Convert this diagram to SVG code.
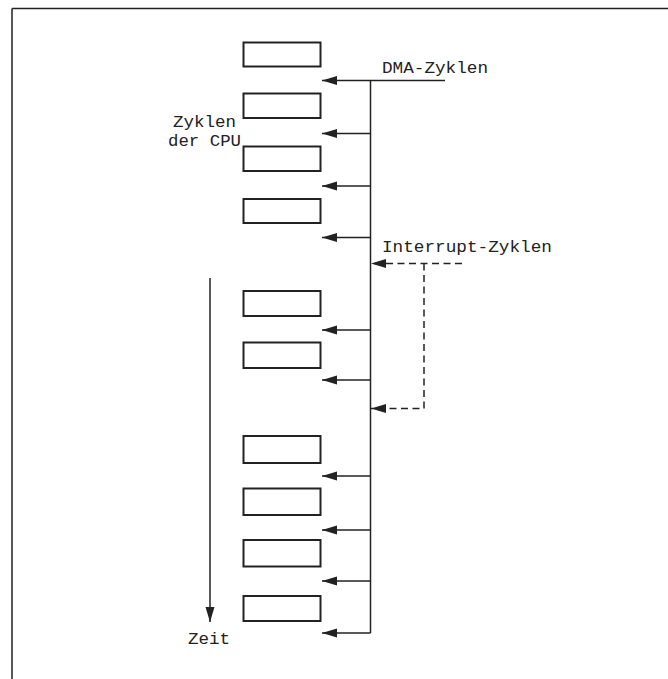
<svg xmlns="http://www.w3.org/2000/svg" width="668" height="679" viewBox="0 0 668 679">
<style>
.box{fill:none;stroke:#222;stroke-width:2}
.ln{fill:none;stroke:#222;stroke-width:1.5}
.dash{fill:none;stroke:#222;stroke-width:1.5;stroke-dasharray:7 4.5}
.t{font-family:"Liberation Mono",monospace;font-size:17px;fill:#222}
</style>
<defs>
<marker id="ah" markerUnits="userSpaceOnUse" markerWidth="16" markerHeight="10" refX="15" refY="4.5" orient="auto">
<path d="M0,0 L15,4.5 L0,9 Z" fill="#222"/>
</marker>
</defs>
<rect width="668" height="679" fill="#fff"/>
<path class="ln" d="M12,8.5 H668 M12,8.5 V679" stroke-width="2"/>
<g id="cpu-cycles">
<rect id="c1" class="box" x="243.5" y="42.5" width="77" height="24"/>
<rect id="c2" class="box" x="243.5" y="93.5" width="77" height="24.5"/>
<rect id="c3" class="box" x="243.5" y="146.5" width="77" height="24.5"/>
<rect id="c4" class="box" x="243.5" y="199" width="77" height="24"/>
<rect id="c5" class="box" x="243.5" y="291" width="77" height="25"/>
<rect id="c6" class="box" x="243.5" y="342.5" width="77" height="25.5"/>
<rect id="c7" class="box" x="243.5" y="436" width="77" height="27"/>
<rect id="c8" class="box" x="243.5" y="488.5" width="77" height="26.5"/>
<rect id="c9" class="box" x="243.5" y="540" width="77" height="26.5"/>
<rect id="c10" class="box" x="243.5" y="596" width="77" height="25"/>
</g>
<g id="labels">
<text class="t" x="382" y="73" textLength="106" lengthAdjust="spacingAndGlyphs">DMA-Zyklen</text>
<text class="t" x="173" y="127" textLength="63" lengthAdjust="spacingAndGlyphs">Zyklen</text>
<text class="t" x="168" y="146" textLength="73" lengthAdjust="spacingAndGlyphs">der CPU</text>
<text class="t" x="382" y="252" textLength="170" lengthAdjust="spacingAndGlyphs">Interrupt-Zyklen</text>
<text class="t" x="188" y="644" textLength="42" lengthAdjust="spacingAndGlyphs">Zeit</text>
</g>
<g id="connectors">
<path class="ln" d="M445,80.5 H322" marker-end="url(#ah)"/>
<path class="ln" d="M370.5,80.5 V633"/>
<path class="ln" d="M370.5,133.5 H322" marker-end="url(#ah)"/>
<path class="ln" d="M370.5,186 H322" marker-end="url(#ah)"/>
<path class="ln" d="M370.5,237.5 H322" marker-end="url(#ah)"/>
<path class="ln" d="M370.5,330 H322" marker-end="url(#ah)"/>
<path class="ln" d="M370.5,380 H322" marker-end="url(#ah)"/>
<path class="ln" d="M370.5,476 H322" marker-end="url(#ah)"/>
<path class="ln" d="M370.5,530 H322" marker-end="url(#ah)"/>
<path class="ln" d="M370.5,581 H322" marker-end="url(#ah)"/>
<path class="ln" d="M370.5,633 H322" marker-end="url(#ah)"/>
<path class="dash" d="M462,263.5 H371" marker-end="url(#ah)"/>
<path class="dash" d="M424,263.5 V408.5 H371" marker-end="url(#ah)"/>
<path class="ln" d="M210,278 V622" marker-end="url(#ah)"/>
</g>
</svg>
